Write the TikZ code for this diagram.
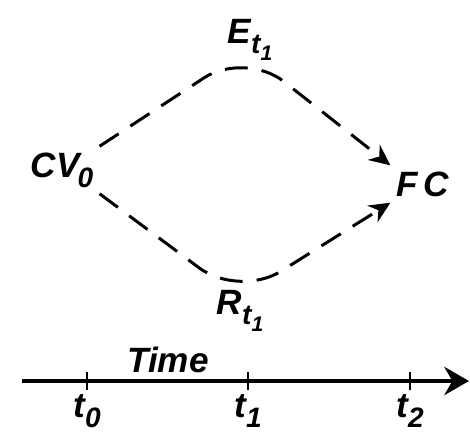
\documentclass[tikz,border=0pt]{standalone}
\usepackage{fontspec}
\setmainfont{Liberation Sans}
\usetikzlibrary{positioning, arrows.meta}

\newcommand{\lowa}[1]{\raisebox{-0.55ex}{\fontsize{16}{16}\selectfont #1}}
\newcommand{\lowb}[1]{\raisebox{-0.45ex}{\fontsize{12}{12}\selectfont #1}}

\begin{document}
\begin{tikzpicture}[node distance=0.6cm, on grid,
    font=\fontsize{20}{24}\selectfont\bfseries\itshape,
    route/.style={line width=1.7pt, dash pattern=on 13pt off 8pt, rounded corners=28pt,
                  -{Stealth[length=12pt, width=11pt]}},
    axis/.style={line width=2.3pt, -{Stealth[length=14pt, width=16pt]}},
    tickmark/.style={line width=1pt}]
    \useasboundingbox (0,0) rectangle (9.4,-8.62);

    \node (CV) at (1.24,-3.4) {CV\kern-1pt\lowa{0}};
    \node (E)  at (5.0,-0.8) {E\lowa{t\lowb{1}}};
    \node (FC) at (8.46,-3.68) {F\,C};
    \node (R)  at (4.8,-6.22) {R\lowa{t\lowb{1}}};
    \coordinate (top) at (4.9,-1.02);
    \coordinate (bot) at (4.78,-5.95);

    \draw[route] (CV.north east) -- (top) -- (FC.north west);
    \draw[route] (CV.south east) -- (bot) -- (FC.south west);

    % time axis
    \coordinate (start) at (0.44,-7.62);
    \coordinate (end) at (9.38,-7.62);
    \draw[axis] (start) -- (end);
    \node (time) at (3.36,-7.2) {Time};
    \foreach \x/\n in {1.74/0, 4.96/1, 8.2/2} {
        \coordinate (T\n) at (\x,-7.62);
        \draw[tickmark] ([yshift=5pt]T\n) -- ([yshift=-5pt]T\n);
        \node (L\n) at ([yshift=-0.6cm]T\n) {t\lowa{\n}};
    }
\end{tikzpicture}
\end{document}
